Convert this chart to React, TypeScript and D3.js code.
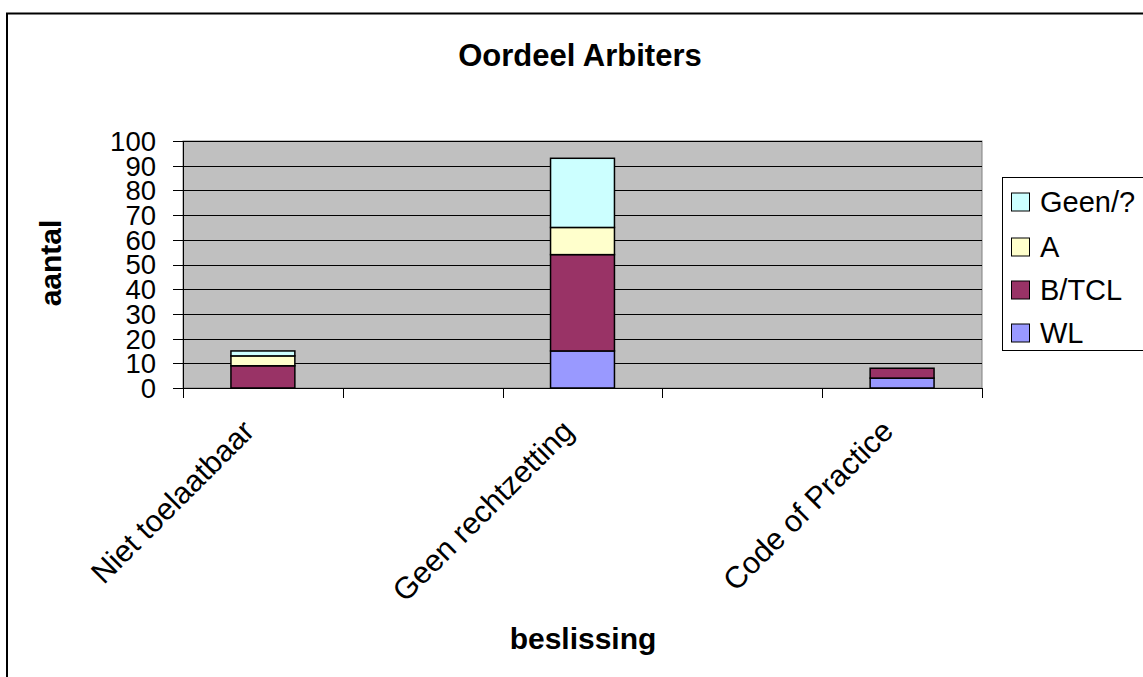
import * as d3 from 'd3'

// five category slots; Excel skipped the labels of the 2nd and 4th
const categories = ['Niet toelaatbaar', 'c2', 'Geen rechtzetting', 'c4', 'Code of Practice']
const categoryLabels = ['Niet toelaatbaar', '', 'Geen rechtzetting', '', 'Code of Practice']

const seriesNames = ['WL', 'B/TCL', 'A', 'Geen/?']
const wl = [0, 0, 15, 0, 4]
const btcl = [9, 0, 39, 0, 4]
const a = [4, 0, 11, 0, 0]
const geen = [2, 0, 28, 0, 0]
const seriesColors = ['#9999FF', '#993366', '#FFFFCC', '#CCFFFF']

const yTicks = [0, 10, 20, 30, 40, 50, 60, 70, 80, 90, 100]

const FONT = '"Liberation Sans", Arial, sans-serif'

export default function App() {
  const width = 1143
  const height = 677
  const plot = { left: 183, right: 982, top: 141, bottom: 388 }

  const rows = categories.map((c, i) => ({
    cat: c,
    WL: wl[i],
    'B/TCL': btcl[i],
    A: a[i],
    'Geen/?': geen[i],
  }))
  const stacked = d3.stack<(typeof rows)[number]>().keys(seriesNames)(rows)

  const x = d3
    .scaleBand<string>()
    .domain(categories)
    .range([plot.left, plot.right])
    .paddingInner(0.6)
    .paddingOuter(0.3)
  const y = d3.scaleLinear().domain([0, 100]).range([plot.bottom, plot.top])

  const step = x.step()
  const boundaries = d3.range(categories.length + 1).map((i) => plot.left + i * step)

  // legend shows the series top-down
  const legendItems = seriesNames.map((n, i) => ({ name: n, color: seriesColors[i] })).reverse()
  const legendRowY = [202, 247, 290, 333]

  return (
    <svg
      width={width}
      height={height}
      style={{ position: 'absolute', left: 0, top: 0, background: '#fff' }}
      fontFamily={FONT}
    >
      {/* chart frame */}
      <rect x={8} y={15} width={1200} height={700} fill="none" stroke="#999" strokeWidth={1} />
      <rect x={7} y={13.5} width={1200} height={700} fill="#fff" stroke="#000" strokeWidth={2} />

      <text x={580} y={66} textAnchor="middle" fontSize={31} fontWeight="bold">
        Oordeel Arbiters
      </text>

      {/* plot area */}
      <rect
        x={plot.left}
        y={plot.top}
        width={plot.right - plot.left}
        height={plot.bottom - plot.top}
        fill="#C0C0C0"
        stroke="#808080"
        strokeWidth={1}
      />
      {yTicks
        .filter((t) => t > 0)
        .map((t) => (
          <line
            key={t}
            x1={plot.left}
            x2={plot.right}
            y1={Math.round(y(t)) + 0.5}
            y2={Math.round(y(t)) + 0.5}
            stroke="#000"
            strokeWidth={1}
          />
        ))}

      {/* bars */}
      {stacked.map((s, si) => (
        <g key={s.key}>
          {s.map((d, i) =>
            d[1] - d[0] > 0 ? (
              <rect
                key={i}
                x={x(categories[i])!}
                y={y(d[1])}
                width={x.bandwidth()}
                height={y(d[0]) - y(d[1])}
                fill={seriesColors[si]}
                stroke="#000"
                strokeWidth={1.5}
              />
            ) : null
          )}
        </g>
      ))}

      {/* axes */}
      <line x1={plot.left + 0.5} x2={plot.left + 0.5} y1={plot.top} y2={plot.bottom} stroke="#000" />
      <line x1={plot.left - 10} x2={plot.right} y1={plot.bottom + 0.5} y2={plot.bottom + 0.5} stroke="#000" />
      {yTicks.map((t) => (
        <g key={t}>
          <line
            x1={plot.left - 10}
            x2={plot.left}
            y1={Math.round(y(t)) + 0.5}
            y2={Math.round(y(t)) + 0.5}
            stroke="#000"
          />
          <text x={156} y={y(t)} dy="0.36em" textAnchor="end" fontSize={27.5}>
            {t}
          </text>
        </g>
      ))}
      {boundaries.map((bx, i) => (
        <line
          key={i}
          x1={Math.round(bx) + 0.5}
          x2={Math.round(bx) + 0.5}
          y1={plot.bottom}
          y2={plot.bottom + 10}
          stroke="#000"
        />
      ))}
      {categories.map((c, i) =>
        categoryLabels[i] ? (
          <text
            key={c}
            transform={`translate(${x(c)! + x.bandwidth() / 2 - 7},${plot.bottom + 45}) rotate(-45)`}
            textAnchor="end"
            fontSize={30.5}
          >
            {categoryLabels[i]}
          </text>
        ) : null
      )}

      <text
        transform={`translate(61,263) rotate(-90)`}
        textAnchor="middle"
        fontSize={30}
        fontWeight="bold"
      >
        aantal
      </text>
      <text x={583} y={649} textAnchor="middle" fontSize={30} fontWeight="bold">
        beslissing
      </text>

      {/* legend */}
      <rect x={1002.5} y={177.5} width={300} height={173} fill="#fff" stroke="#000" strokeWidth={1} />
      {legendItems.map((it, i) => (
        <g key={it.name}>
          <rect
            x={1011.5}
            y={legendRowY[i] - 9}
            width={18}
            height={18}
            fill={it.color}
            stroke="#000"
            strokeWidth={1}
          />
          <text x={1040} y={legendRowY[i]} dy="0.36em" fontSize={29}>
            {it.name}
          </text>
        </g>
      ))}
    </svg>
  )
}
